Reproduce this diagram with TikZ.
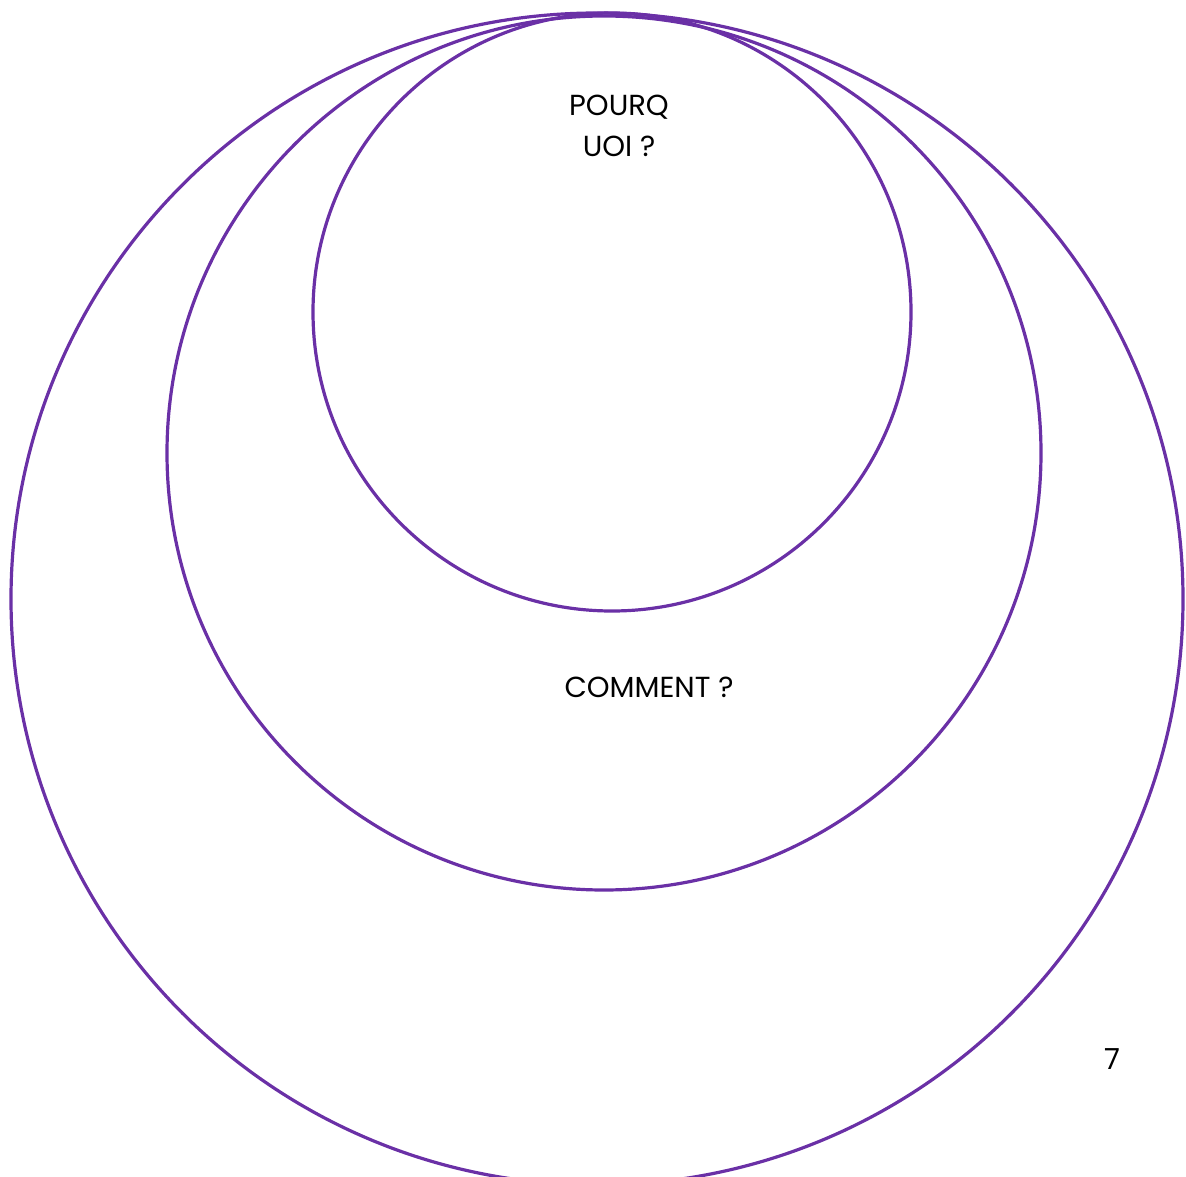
\documentclass[tikz,border=0pt]{standalone}
\usepackage{fontspec}
\setmainfont{Poppins}
\definecolor{ringpurple}{RGB}{106,48,166}
\begin{document}
\begin{tikzpicture}[x=1pt,y=-1pt,
  ring/.style={draw=ringpurple,line width=3.2pt},
  lbl/.style={font=\fontsize{29}{34}\selectfont,anchor=base,inner sep=0pt,text=black}]
\useasboundingbox (0,0) rectangle (1186,1177);
\begin{scope}
\clip (0,0) rectangle (1186,1177);
\draw[ring] (597,599) circle[radius=586];
\draw[ring] (604,453) circle[radius=437];
\draw[ring] (612,312) circle[radius=299];
\end{scope}
\node[lbl] (why1) at (619,116) {POURQ};
\node[lbl] (why2) at (619,157) {UOI ?};
\node[lbl] (how) at (649,697) {COMMENT ?};
\node[lbl] (page) at (1112,1069) {7};
\end{tikzpicture}
\end{document}
